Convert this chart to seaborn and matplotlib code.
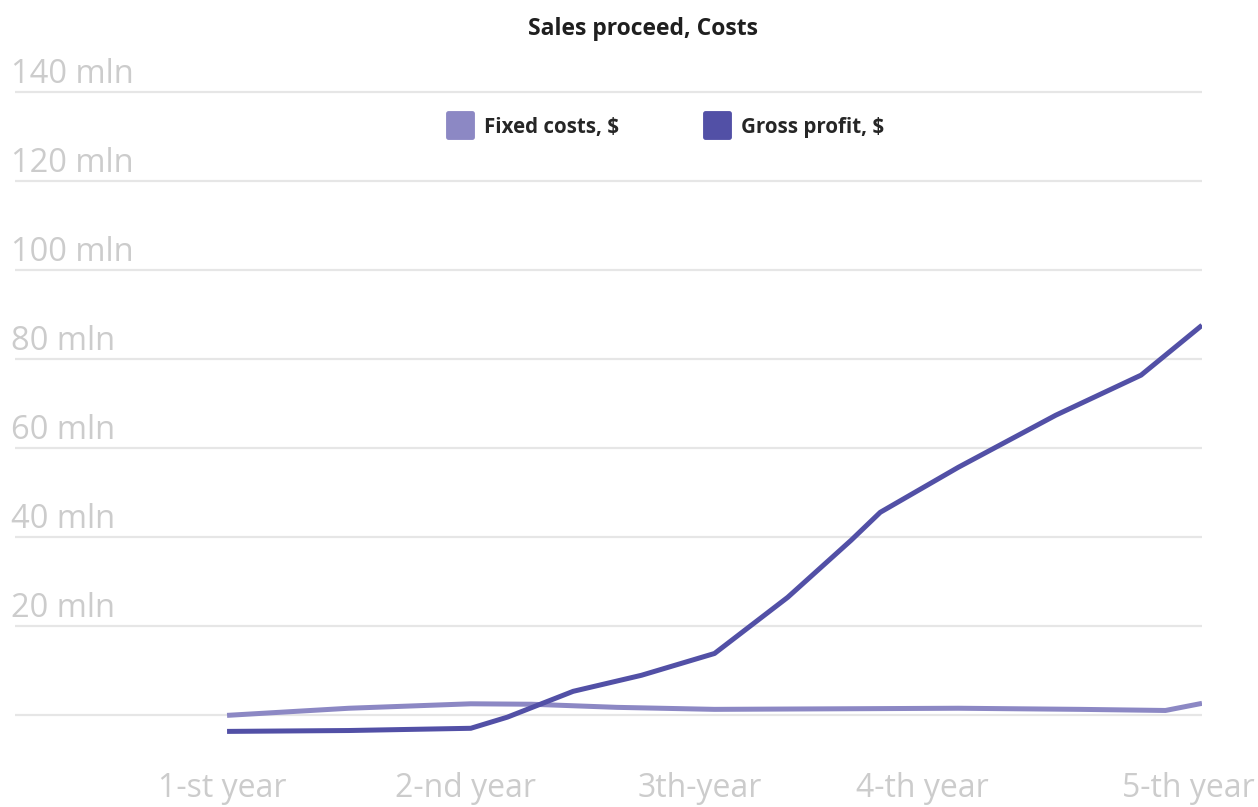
import matplotlib
matplotlib.use("Agg")
import matplotlib.pyplot as plt
import matplotlib.transforms as mtransforms
from matplotlib.lines import Line2D
from matplotlib.markers import MarkerStyle
import numpy as np
import pandas as pd
import seaborn as sns

# ---- data (values in mln $) ----
year_labels = ["1-st year", "2-nd year", "3th-year", "4-th year", "5-th year"]
year_ticks = [1, 2, 3, 4, 5]

fixed_x = [1.0, 1.5, 2.0, 2.25, 2.6, 3.0, 4.0, 4.5, 4.85, 5.0]
fixed_costs = [0.0, 1.6, 2.6, 2.5, 1.8, 1.35, 1.6, 1.35, 1.1, 2.7]

gross_x = [1.0, 1.5, 2.0, 2.15, 2.42, 2.7, 3.0, 3.3, 3.56, 3.68, 4.0, 4.4, 4.75, 5.0]
gross_profit = [-3.6, -3.4, -2.9, -0.4, 5.4, 9.0, 13.9, 26.5, 39.3, 45.6, 55.7, 67.4, 76.4, 87.6]

y_ticks = [20, 40, 60, 80, 100, 120, 140]
y_tick_labels = [f"{v} mln" for v in y_ticks]

series_names = ["Fixed costs, $", "Gross profit, $"]
series_colors = ["#8C88C4", "#5250A6"]

df = pd.concat([
    pd.DataFrame({"year": fixed_x, "value": fixed_costs, "series": series_names[0]}),
    pd.DataFrame({"year": gross_x, "value": gross_profit, "series": series_names[1]}),
])

sns.set_theme(style="white")
plt.rcParams["font.family"] = ["Open Sans", "DejaVu Sans"]

W, H = 1258, 807
fig = plt.figure(figsize=(W / 100, H / 100), dpi=100)
left_px, right_px, top_px, bottom_px = 15, 1202, 83, 751
ax = fig.add_axes([left_px / W, 1 - bottom_px / H,
                   (right_px - left_px) / W, (bottom_px - top_px) / H])

# horizontal grid lines (0 baseline included, unlabeled)
for v in [0] + y_ticks:
    ax.axhline(v, color="#e6e6e6", lw=1.6, zorder=0)

sns.lineplot(data=df, x="year", y="value", hue="series",
             palette=dict(zip(series_names, series_colors)),
             estimator=None, sort=True, linewidth=3.6, legend=False, ax=ax,
             solid_joinstyle="round", solid_capstyle="butt")

ax.set_xlim(0.13, 5.0)
ax.set_ylim(-8, 142)
ax.set_xlabel("")
ax.set_ylabel("")
for s in ax.spines.values():
    s.set_visible(False)
ax.set_yticks([])
ax.set_xticks(year_ticks)
ax.set_xticklabels(year_labels, fontsize=23, color="#cccccc")
ax.tick_params(axis="x", length=0, pad=15)

# shift x labels slightly to follow the drawn layout
label_shift_px = [-5, -5, -15, -36, -14]
for lbl, dx in zip(ax.get_xticklabels(), label_shift_px):
    lbl.set_transform(lbl.get_transform() +
                      mtransforms.ScaledTranslation(dx / 100, 0, fig.dpi_scale_trans))

# y labels sit above their grid lines at the left edge
ytrans = mtransforms.blended_transform_factory(ax.transAxes, ax.transData)
for v, t in zip(y_ticks, y_tick_labels):
    ax.text(-0.003, v, t, transform=ytrans + mtransforms.ScaledTranslation(0, 1 / 100, fig.dpi_scale_trans),
            ha="left", va="bottom", fontsize=23.5, color="#cccccc")

fig.text(0.511, 1 - 29 / H, "Sales proceed, Costs", ha="center", va="center",
         fontsize=16.5, fontweight="bold", color="#1f1f1f")

handles = [Line2D([], [], linestyle="none",
                  marker=MarkerStyle("s", joinstyle="round"),
                  markersize=17, markerfacecolor=c, markeredgecolor=c,
                  markeredgewidth=3.5)
           for c in series_colors]
fig.legend(handles, series_names, loc="center", bbox_to_anchor=(665 / W, 1 - 127 / H),
           ncol=2, frameon=False, handletextpad=0.45, columnspacing=4.1,
           prop={"size": 14.8, "weight": "bold"}, handlelength=1.4)

fig.savefig("out.png", dpi=100, facecolor="white")
